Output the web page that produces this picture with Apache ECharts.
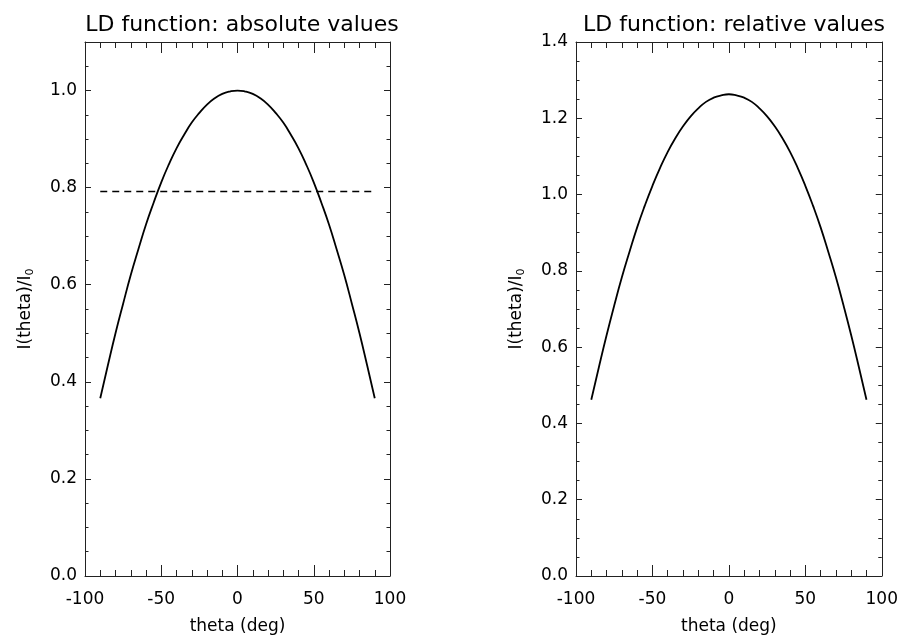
<!DOCTYPE html>
<html>
<head>
<meta charset="utf-8">
<script src="https://cdn.jsdelivr.net/npm/echarts@6/dist/echarts.min.js"></script>
<style>
html,body{margin:0;padding:0;background:#fff;}
#chart{width:901px;height:641px;}
</style>
</head>
<body>
<div id="chart"></div>
<script>
// theta (deg)
const theta = [-90,-85,-80,-75,-70,-65,-60,-55,-50,-45,-40,-35,-30,-25,-20,-15,-10,-5,0,5,10,15,20,25,30,35,40,45,50,55,60,65,70,75,80,85,90];
// Absolute LD values I(theta)/I0
const absVals = [0.366,0.434,0.500,0.561,0.620,0.673,0.724,0.769,0.811,0.848,0.881,0.909,0.934,0.954,0.971,0.984,0.993,0.998,1.000,0.998,0.993,0.984,0.971,0.954,0.934,0.909,0.881,0.848,0.811,0.769,0.724,0.673,0.620,0.561,0.500,0.434,0.366];
// Relative LD values
const relVals = [0.462,0.548,0.631,0.709,0.783,0.850,0.914,0.971,1.023,1.070,1.112,1.148,1.179,1.205,1.226,1.243,1.254,1.260,1.263,1.260,1.254,1.243,1.226,1.205,1.179,1.148,1.112,1.070,1.023,0.971,0.914,0.850,0.783,0.709,0.631,0.548,0.462];
// Dashed reference level
const refTheta = [-90, 90];
const refLevel = [0.792, 0.792];

const titles = ['LD function: absolute values', 'LD function: relative values'];
const xName = 'theta (deg)';
const yMax = [1.1, 1.4];
const yTickLabels = [[0.0,0.2,0.4,0.6,0.8,1.0],[0.0,0.2,0.4,0.6,0.8,1.0,1.2,1.4]];

const FONT = 'DejaVu Sans';
const C = '#000';
const AX = '#222';

const grids = [
  {left: 85, top: 42, width: 305, height: 534},
  {left: 576, top: 42, width: 306, height: 534}
];

function pair(xs, ys){ return xs.map((x,i)=>[x, ys[i]]); }

const xAxes = [], yAxes = [];
[0,1].forEach(g=>{
  xAxes.push({
    type:'value', gridIndex:g, min:-100, max:100, interval:50, position:'bottom',
    name:xName, nameLocation:'middle', nameGap:42,
    nameTextStyle:{fontFamily:FONT, fontSize:17, color:C},
    axisLine:{onZero:false, lineStyle:{color:AX, width:1}},
    axisTick:{inside:true, length:11, lineStyle:{color:AX}},
    minorTick:{show:true, splitNumber:5, length:6, lineStyle:{color:AX}},
    axisLabel:{fontFamily:FONT, fontSize:17, color:C, margin:15},
    splitLine:{show:false}
  });
  xAxes.push({
    type:'value', gridIndex:g, min:-100, max:100, interval:50, position:'top',
    axisLine:{onZero:false, lineStyle:{color:AX, width:1}},
    axisTick:{inside:true, length:11, lineStyle:{color:AX}},
    minorTick:{show:true, splitNumber:5, length:6, lineStyle:{color:AX}},
    axisLabel:{show:false}, splitLine:{show:false}
  });
  const labels = yTickLabels[g];
  yAxes.push({
    type:'value', gridIndex:g, min:0, max:yMax[g], interval:0.2, position:'left',
    name:'{a|I(theta)/I}{b|0}', nameLocation:'middle', nameGap:49,
    nameTextStyle:{fontFamily:FONT, fontSize:17, color:C,
      rich:{a:{fontFamily:FONT, fontSize:17, color:C},
            b:{fontFamily:FONT, fontSize:11, color:C, padding:[9,0,0,0]}}},
    axisLine:{onZero:false, lineStyle:{color:AX, width:1}},
    axisTick:{inside:true, length:6, lineStyle:{color:AX}},
    minorTick:{show:true, splitNumber:4, length:3.5, lineStyle:{color:AX}},
    axisLabel:{fontFamily:FONT, fontSize:17, color:C, margin:8,
      formatter:v=>labels.some(l=>Math.abs(l-v)<1e-6) ? v.toFixed(1) : ''},
    splitLine:{show:false}
  });
  yAxes.push({
    type:'value', gridIndex:g, min:0, max:yMax[g], interval:0.2, position:'right',
    axisLine:{onZero:false, lineStyle:{color:AX, width:1}},
    axisTick:{inside:true, length:6, lineStyle:{color:AX}},
    minorTick:{show:true, splitNumber:4, length:3.5, lineStyle:{color:AX}},
    axisLabel:{show:false}, splitLine:{show:false}
  });
});

const option = {
  animation:false,
  backgroundColor:'#fff',
  title: titles.map((t,i)=>({
    text:t, left: i===0 ? 237 : 729, top:9, textAlign:'center',
    textStyle:{fontFamily:FONT, fontSize:22, fontWeight:'normal', color:C}
  })),
  grid: grids,
  xAxis: xAxes,
  yAxis: yAxes,
  series: [
    {type:'line', xAxisIndex:0, yAxisIndex:0, data:pair(theta, absVals), smooth:true, showSymbol:false,
     lineStyle:{color:C, width:1.8}},
    {type:'line', xAxisIndex:0, yAxisIndex:0, data:pair(refTheta, refLevel), showSymbol:false,
     lineStyle:{color:C, width:1.5, type:[7,5]}},
    {type:'line', xAxisIndex:2, yAxisIndex:2, data:pair(theta, relVals), smooth:true, showSymbol:false,
     lineStyle:{color:C, width:1.8}}
  ]
};

echarts.init(document.getElementById('chart'), null, {renderer:'canvas'}).setOption(option);
</script>
</body>
</html>
